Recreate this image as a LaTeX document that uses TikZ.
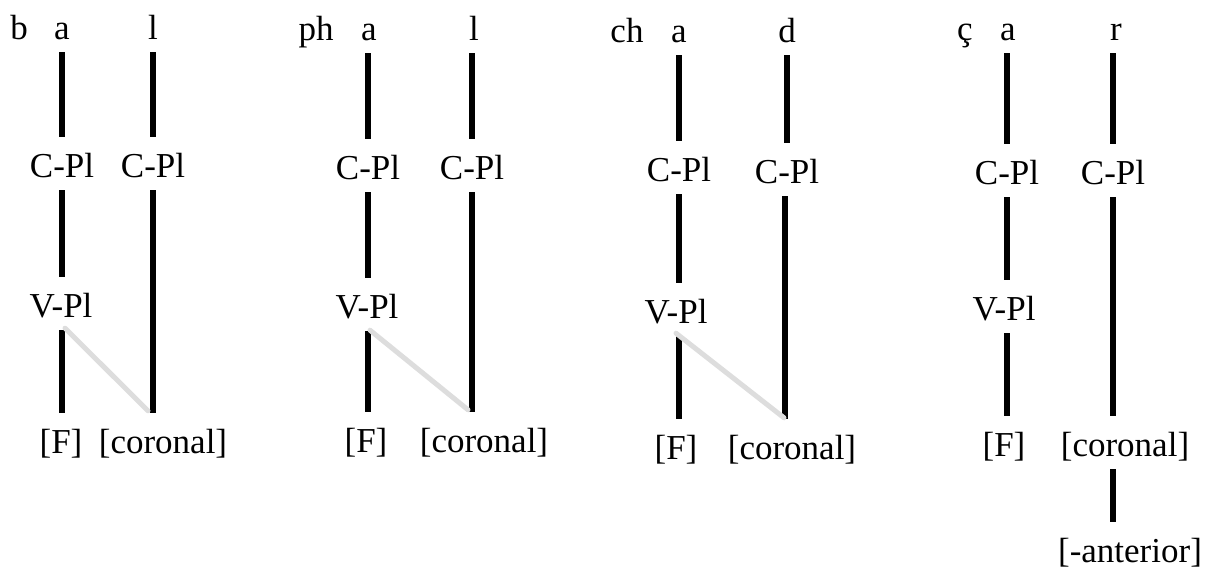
\documentclass[tikz,border=0pt]{standalone}
\usepackage{fontspec}
\setmainfont{Liberation Serif}
\usetikzlibrary{calc}
\definecolor{spreadgrey}{RGB}{221,221,221}
\begin{document}
\begin{tikzpicture}[x=1pt,y=-1pt,
  lbl/.style={anchor=base, font=\fontsize{35}{42}\selectfont,
              text height=27pt, text depth=0pt, inner ysep=13pt, inner xsep=2pt},
  tie/.style={line width=5.5pt, black},
  spread/.style={line width=5pt, draw=spreadgrey, line cap=round}]
\useasboundingbox (0,0) rectangle (1211,570);

% ---------- b a l ----------
\node[lbl] (on1) at (19,39) {b};
\node[lbl] (a1)  at (62,39) {a};
\node[lbl] (l1)  at (153,39) {l};
\node[lbl] (cpa1) at (62,177) {C-Pl};
\node[lbl] (cpb1) at (153,177) {C-Pl};
\node[lbl] (vp1) at (61,317) {V-Pl};
\node[lbl] (f1)  at (61,453) {[F]};
\node[lbl] (cor1) at (163,453) {[coronal]};
\draw[tie] (a1) -- (a1 |- cpa1.north);
\draw[tie] (l1) -- (l1 |- cpb1.north);
\draw[tie] (cpa1) -- (cpa1 |- vp1.north);
\draw[tie] (cpa1 |- vp1.south) -- (cpa1 |- f1.north);
\draw[tie] (cpb1) -- (cpb1 |- cor1.north);
\draw[spread] ($(cpa1 |- vp1.south)+(3,-2)$) -- ($(cpb1 |- cor1.north)+(-5,-2)$);

% ---------- ph a l ----------
\node[lbl] (on2) at (316,40) {ph};
\node[lbl] (a2)  at (369,40) {a};
\node[lbl] (l2)  at (474,40) {l};
\node[lbl] (cpa2) at (368,179) {C-Pl};
\node[lbl] (cpb2) at (472,179) {C-Pl};
\node[lbl] (vp2) at (367,318) {V-Pl};
\node[lbl] (f2)  at (366,452) {[F]};
\node[lbl] (cor2) at (484,452) {[coronal]};
\draw[tie] (cpa2 |- a2.south) -- (cpa2);
\draw[tie] (cpb2 |- l2.south) -- (cpb2);
\draw[tie] (cpa2) -- (cpa2 |- vp2.north);
\draw[tie] (cpa2 |- vp2.south) -- (cpa2 |- f2.north);
\draw[tie] (cpb2) -- (cpb2 |- cor2.north);
\draw[spread] ($(cpa2 |- vp2.south)+(2,-1)$) -- ($(cpb2 |- cor2.north)+(-4,-2)$);

% ---------- ch a d ----------
\node[lbl] (on3) at (627,42) {ch};
\node[lbl] (a3)  at (679,42) {a};
\node[lbl] (d3)  at (787,42) {d};
\node[lbl] (cpa3) at (679,181) {C-Pl};
\node[lbl] (cpb3) at (787,183) {C-Pl};
\node[lbl] (vp3) at (676,323) {V-Pl};
\node[lbl] (f3)  at (676,459) {[F]};
\node[lbl] (cor3) at (792,459) {[coronal]};
\draw[tie] (cpa3 |- a3.south) -- (cpa3);
\draw[tie] (cpb3 |- d3.south) -- (cpb3);
\draw[tie] (cpa3) -- (cpa3 |- vp3.north);
\draw[tie] (cpa3 |- vp3.south) -- (cpa3 |- f3.north);
\draw[tie] ($(cpb3.south)+(-2,0)$) -- ($(cpb3 |- cor3.north)+(-2,0)$);
\draw[spread] ($(cpa3 |- vp3.south)+(-3,-3)$) -- ($(cpb3 |- cor3.north)+(-3,-1)$);

% ---------- ç a r ----------
\node[lbl] (on4) at (965,40) {ç};
\node[lbl] (a4)  at (1008,40) {a};
\node[lbl] (r4)  at (1116,40) {r};
\node[lbl] (cpa4) at (1007,184) {C-Pl};
\node[lbl] (cpb4) at (1113,184) {C-Pl};
\node[lbl] (vp4) at (1004,320) {V-Pl};
\node[lbl] (f4)  at (1004,456) {[F]};
\node[lbl] (cor4) at (1125,456) {[coronal]};
\node[lbl] (ant4) at (1130,562) {[-anterior]};
\draw[tie] (cpa4 |- a4.south) -- (cpa4);
\draw[tie] (cpb4 |- r4.south) -- (cpb4);
\draw[tie] (cpa4) -- (cpa4 |- vp4.north);
\draw[tie] (cpa4 |- vp4.south) -- (cpa4 |- f4.north);
\draw[tie] (cpb4) -- (cpb4 |- cor4.north);
\draw[tie] (cpb4 |- cor4.south) -- (cpb4 |- ant4.north);
\end{tikzpicture}
\end{document}
